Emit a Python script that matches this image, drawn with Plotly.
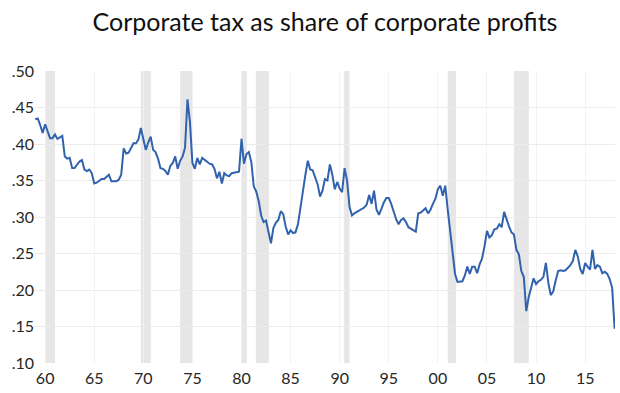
import pandas as pd
import plotly.graph_objects as go

# Quarterly series, starting 1959 Q1
start_year = 1959
tax_share = [
    .434, .435, .426, .415, .427, .418, .408, .408, .413, .407, .409, .411,
    .383, .380, .381, .367, .367, .371, .376, .378, .365, .363, .365, .360,
    .346, .347, .349, .352, .352, .355, .358, .349, .349, .349, .351, .358,
    .394, .387, .388, .395, .401, .401, .406, .422, .406, .392, .402, .410,
    .392, .389, .380, .367, .366, .363, .358, .370, .374, .383, .366, .377,
    .383, .395, .461, .430, .374, .366, .381, .372, .381, .378, .376, .373,
    .372, .366, .353, .362, .346, .360, .357, .356, .360, .361, .361, .362,
    .407, .373, .386, .389, .375, .342, .335, .322, .302, .293, .295, .278,
    .264, .285, .292, .296, .308, .304, .287, .276, .282, .278, .279, .290,
    .314, .335, .357, .377, .365, .364, .355, .345, .328, .336, .352, .350,
    .372, .358, .338, .348, .339, .334, .367, .350, .314, .302, .305, .307,
    .310, .312, .313, .317, .330, .318, .336, .310, .303, .311, .320, .326,
    .326, .318, .306, .297, .290, .296, .298, .293, .286, .284, .283, .280,
    .305, .306, .309, .312, .305, .310, .318, .325, .338, .343, .329, .343,
    .310, .280, .248, .222, .211, .211, .212, .220, .232, .222, .232, .232,
    .223, .235, .243, .260, .281, .272, .275, .283, .284, .290, .286, .307,
    .295, .287, .279, .276, .255, .249, .226, .218, .171, .190, .203, .216,
    .208, .212, .214, .218, .237, .210, .193, .198, .213, .226, .227, .226,
    .227, .230, .234, .240, .255, .246, .229, .222, .237, .232, .228, .255,
    .229, .234, .232, .223, .225, .222, .215, .203, .147,
]

recession_starts = ["1960-02-01", "1969-10-01", "1973-10-01", "1980-01-01",
                    "1981-06-15", "1990-06-15", "2001-01-01", "2007-10-07"]
recession_ends = ["1961-01-01", "1970-10-07", "1975-01-15", "1980-07-15",
                  "1982-10-15", "1991-01-01", "2001-11-01", "2009-04-07"]

x_tick_years = [1960, 1965, 1970, 1975, 1980, 1985, 1990, 1995, 2000, 2005, 2010, 2015]
x_tick_labels = ["60", "65", "70", "75", "80", "85", "90", "95", "00", "05", "10", "15"]
y_tick_vals = [0.10, 0.15, 0.20, 0.25, 0.30, 0.35, 0.40, 0.45, 0.50]
y_tick_labels = [".10", ".15", ".20", ".25", ".30", ".35", ".40", ".45", ".50"]

dates = [pd.Timestamp(year=start_year + i // 4, month=1 + 3 * (i % 4), day=1)
         for i in range(len(tax_share))]

fig = go.Figure()
fig.add_trace(go.Scatter(
    x=dates, y=tax_share, mode="lines",
    line=dict(color="#3162ae", width=2),
    hoverinfo="x+y", showlegend=False,
))

for s, e in zip(recession_starts, recession_ends):
    fig.add_shape(type="rect", xref="x", yref="y", x0=s, x1=e, y0=0.10, y1=0.50,
                  fillcolor="#e6e6e6", line=dict(width=0), layer="below")

font_family = "Lato, Calibri, Carlito, sans-serif"
fig.update_layout(
    width=620, height=393,
    margin=dict(l=35, r=5, t=71, b=30, autoexpand=False),
    paper_bgcolor="white", plot_bgcolor="white",
    title=dict(text="Corporate tax as share of corporate profits",
               x=0.5, xref="paper", xanchor="center",
               yref="container", y=0.944, yanchor="middle",
               font=dict(family=font_family, size=25, color="#111111")),
    font=dict(family=font_family, size=16, color="#262626"),
    xaxis=dict(
        type="date", automargin=False,
        range=["1958-12-20", "2018-01-15"],
        tickvals=[f"{y}-01-01" for y in x_tick_years],
        ticktext=x_tick_labels,
        showgrid=True, gridcolor="#f2f2f2", gridwidth=1,
        zeroline=False, showline=False, ticks="",
        ticklabelstandoff=4,
        tickfont=dict(size=16, color="#262626"),
    ),
    yaxis=dict(
        range=[0.10, 0.50], automargin=False,
        tickvals=y_tick_vals, ticktext=y_tick_labels,
        showgrid=True, gridcolor="#ebebeb", gridwidth=1,
        zeroline=False, showline=False, ticks="",
        tickfont=dict(size=16, color="#262626"),
    ),
)

fig.write_html("out.html", config={"displayModeBar": False},
               post_script="document.body.style.margin='0px';")
